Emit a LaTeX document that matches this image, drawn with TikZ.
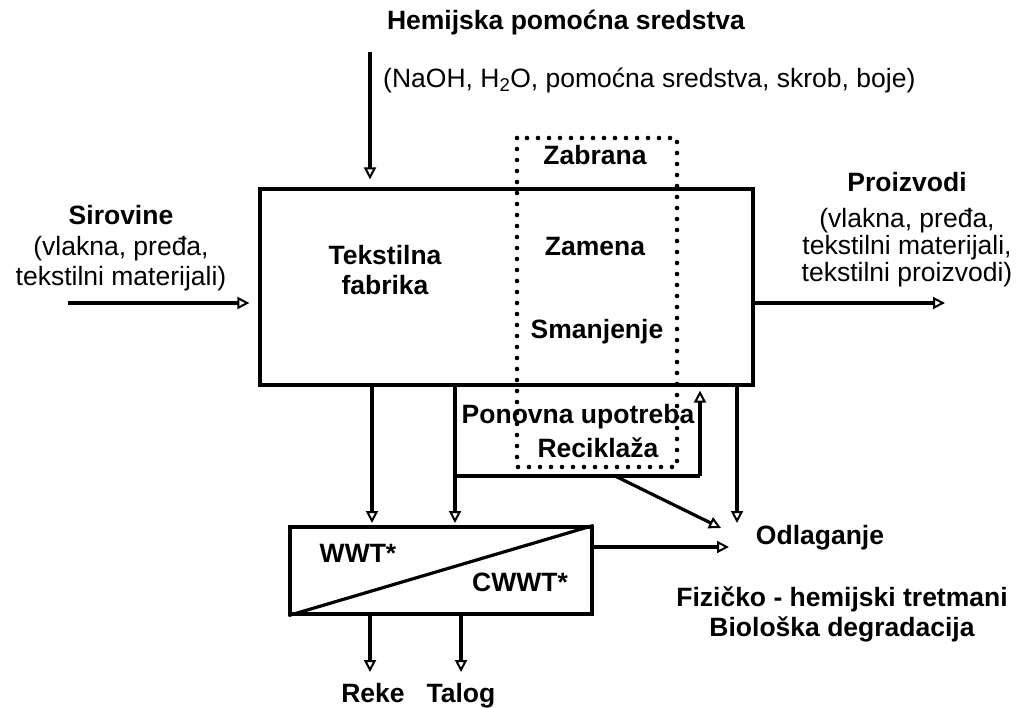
\documentclass[tikz,border=0pt]{standalone}
\usepackage{fontspec}
\setmainfont{Liberation Sans}
\usetikzlibrary{arrows.meta,calc}
\tikzset{
  lw/.style={line width=3.2pt},
  arr/.style={lw, -{Triangle[open, length=12pt, width=12pt, line width=2pt, fill=white]}},
  boxn/.style={draw, lw, rectangle, inner sep=0pt},
  dotbox/.style={draw, line width=4.6pt, line cap=round, dash pattern=on 0pt off 11pt},
  bt/.style={font=\fontsize{26.5}{30}\selectfont\bfseries, align=center, inner sep=0pt},
  rt/.style={font=\fontsize{26.5}{30}\selectfont, align=center, inner sep=0pt},
  rt2/.style={font=\fontsize{26.5}{27}\selectfont, align=center, inner sep=0pt},
}
\begin{document}
\begin{tikzpicture}[x=1pt,y=-1pt]
\useasboundingbox (0,0) rectangle (1016,708);
% main boxes
\node[boxn, minimum width=493pt, minimum height=196pt] (fab) at (506.5,287) {};
\draw[dotbox] (517,138) rectangle (677,467);
\node[boxn, minimum width=302pt, minimum height=87pt] (wwt) at (441,570.5) {};
\draw[lw] (wwt.south west) -- (wwt.north east);
% texts
\node[bt] (hem) at (566,23) {Hemijska pomoćna sredstva};
\node[rt, anchor=west] (naoh) at (383,80) {(NaOH, H\textsubscript{2}O, pomoćna sredstva, skrob, boje)};
\node[bt] (sir) at (121,215) {Sirovine};
\node[rt] (sirt) at (121,264) {(vlakna, pređa,\\tekstilni materijali)};
\node[bt] (pro) at (907,182) {Proizvodi};
\node[rt2] (prot) at (907,248) {(vlakna, pređa,\\tekstilni materijali,\\tekstilni proizvodi)};
\node[bt] (tek) at (385,270) {Tekstilna\\fabrika};
\node[bt] (zab) at (595,155) {Zabrana};
\node[bt] (zam) at (595,247) {Zamena};
\node[bt] (sma) at (597,332) {Smanjenje};
\node[bt] (pon) at (578,417) {Ponovna upotreba};
\node[bt] (rec) at (598,448) {Reciklaža};
\node[bt] (ww) at (358,553) {WWT*};
\node[bt] (cww) at (520,582) {CWWT*};
\node[bt, anchor=base] (rek) at (373,702) {Reke};
\node[bt, anchor=base] (tal) at (461,702) {Talog};
\node[bt] (odl) at (820,538) {Odlaganje};
\node[bt] (fiz) at (842,614) {Fizičko - hemijski tretmani\\Biološka degradacija};
% coordinates
\coordinate (hin) at (370,52);
\coordinate (sin) at (68,303);
\coordinate (pout) at (945,303);
\coordinate (d1) at (372,523);
\coordinate (d2) at (455,523);
\coordinate (br) at (455,476);
\coordinate (brr) at (700,476);
\coordinate (dg) at (615,476);
\coordinate (odg) at (721,528);
\coordinate (odv) at (737,523);
\coordinate (odh) at (729,547);
\coordinate (rk) at (370,672);
\coordinate (tl) at (461,672);
% connectors
\draw[arr, shorten >=8pt] (hin) -- (hin |- fab.north);
\draw[arr, shorten >=9pt] (sin) -- (sin -| fab.west);
\draw[arr] (pout -| fab.east) -- (pout);
\draw[arr] (d1 |- fab.south) -- (d1);
\draw[arr] (d2 |- fab.south) -- (d2);
\draw[lw] (br) -- (brr);
\draw[arr, shorten >=4pt] (brr) -- (brr |- fab.south);
\draw[arr] (dg) -- (odg);
\draw[arr] (odv |- fab.south) -- (odv);
\draw[arr] (odh -| wwt.east) -- (odh);
\draw[arr] (rk |- wwt.south) -- (rk);
\draw[arr] (tl |- wwt.south) -- (tl);
\end{tikzpicture}
\end{document}
